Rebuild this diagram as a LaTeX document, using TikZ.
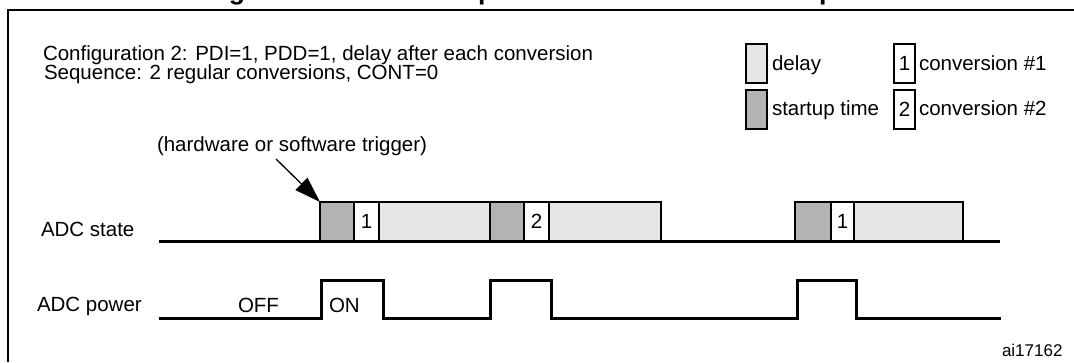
\documentclass[tikz,border=0pt]{standalone}
\usepackage{fontspec}
\setmainfont{Liberation Sans}
\usetikzlibrary{arrows.meta}
\definecolor{startgray}{HTML}{B3B3B3}
\definecolor{delaygray}{HTML}{E6E6E6}
\begin{document}
\begin{tikzpicture}[x=1pt,y=-1pt,
  txt/.style={inner sep=0pt, outer sep=0pt, anchor=base west, font=\fontsize{20.5}{24}\selectfont},
  seg/.style={draw=black, line width=2.8pt, inner sep=0pt, outer sep=0pt, anchor=south west,
              minimum height=39pt, font=\fontsize{20.5}{24}\selectfont},
  startup/.style={seg, fill=startgray},
  delayseg/.style={seg, fill=delaygray},
  convseg/.style={seg, fill=white},
  swatch/.style={draw=black, line width=2.8pt, inner sep=0pt, outer sep=0pt, anchor=north west,
              minimum width=21pt, minimum height=39pt, font=\fontsize{20.5}{24}\selectfont},
  wave/.style={line width=3pt, line cap=butt, line join=miter},
  frameline/.style={line width=2.4pt},
  trigarrow/.style={line width=1.3pt, -{Triangle[length=26pt, width=17pt]}}
]
\useasboundingbox (0,0) rectangle (1074,362);
% cut-off title
\begin{scope}
\clip (0,0) rectangle (1074,362);
\node[anchor=base west, inner sep=0pt, font=\bfseries\fontsize{26.6}{30}\selectfont] (title) at (205,-0.5)
  {Figure 53. Automatic power-down control: example 2};
\end{scope}
% frame
\draw[frameline] (8,362) -- (8,10) -- (1074,10);

% header texts
\node[txt] (cfg) at (43,60.7) {Configuration 2: PDI=1, PDD=1, delay after each conversion};
\node[txt] (seq) at (44,79.3) {Sequence: 2 regular conversions, CONT=0};

% legend
\node[swatch, fill=delaygray] (lgdelay) at (746,44) {};
\node[swatch, fill=startgray] (lgstart) at (746,90) {};
\node[txt] (lgdelayt) at (772,70.5) {delay};
\node[txt] (lgstartt) at (772,115.5) {startup time};
\node[swatch, fill=white] (lgc1) at (894,44) {1};
\node[swatch, fill=white] (lgc2) at (894,90) {2};
\node[txt] (lgc1t) at (919,70.5) {conversion \#1};
\node[txt] (lgc2t) at (919,115.5) {conversion \#2};

% trigger label
\node[txt] (trig) at (157,151.5) {(hardware or software trigger)};

% row labels
\node[txt] (lstate) at (41,236.5) {ADC state};
\node[txt] (lpower) at (37,311) {ADC power};

% ADC state segments
\node[startup, minimum width=34pt] (s1) at (320,241) {};
\node[convseg, minimum width=25pt] (c1) at (354,241) {1};
\node[delayseg, minimum width=111pt] (d1) at (379,241) {};
\node[startup, minimum width=34pt] (s2) at (490,241) {};
\node[convseg, minimum width=25pt] (c2) at (524,241) {2};
\node[delayseg, minimum width=112pt] (d2) at (549,241) {};
\node[startup, minimum width=36pt] (s3) at (795,241) {};
\node[convseg, minimum width=23pt] (c3) at (831,241) {1};
\node[delayseg, minimum width=109pt] (d3) at (854,241) {};

\coordinate (stA) at (158.5,241);
\coordinate (stB) at (1000,241);
\draw[wave] (stA) -- (stB);

% trigger arrow
\coordinate (tstart) at (276,159);
\draw[trigarrow] (tstart) -- (s1.north west);

% ADC power waveform
\coordinate (pA) at (158.5,318);
\coordinate (pB) at (1001,318);
\draw[wave] (pA) -- (321,318) -- (321,280) -- (383,280) -- (383,318)
  -- (490,318) -- (490,280) -- (551,280) -- (551,318)
  -- (797,318) -- (797,280) -- (856,280) -- (856,318) -- (pB);
\node[txt] (off) at (238,312.5) {OFF};
\node[txt] (on) at (329,312.5) {ON};

% figure id
\node[txt, font=\fontsize{17}{20}\selectfont] (fid) at (1002,356) {ai17162};
\end{tikzpicture}
\end{document}
